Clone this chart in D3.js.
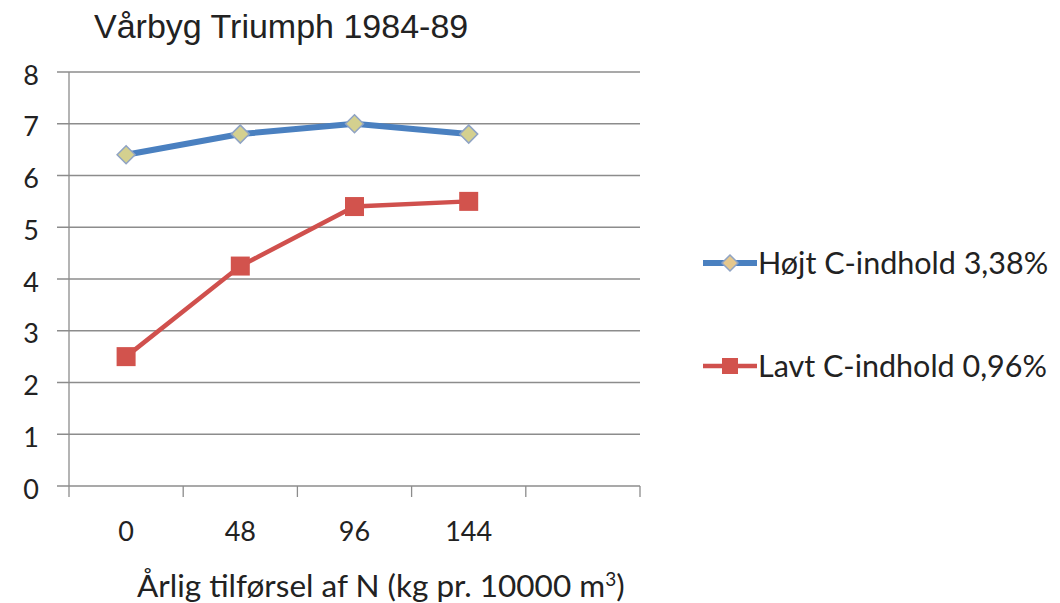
<!DOCTYPE html>
<html>
<head>
<meta charset="utf-8">
<script src="https://cdn.jsdelivr.net/npm/d3@7"></script>
<style>
  body { margin: 0; background: #fff; }
  svg { display: block; }
</style>
</head>
<body>
<svg id="chart" width="1060" height="603"></svg>
<script>
const categories = ["0", "48", "96", "144"];
const highC = [6.4, 6.8, 7.0, 6.8];
const lowC = [2.5, 4.25, 5.4, 5.5];
const yTicks = [0, 1, 2, 3, 4, 5, 6, 7, 8];
const seriesNames = ["Højt C-indhold 3,38%", "Lavt C-indhold 0,96%"];

const svg = d3.select("#chart");
const plotLeft = 69, plotRight = 640, plotTop = 72, plotBottom = 486;

// the sheet had an empty fifth category, so leave a blank slot at the end
const x = d3.scaleBand()
    .domain(categories.concat(["_blank"]))
    .range([plotLeft, plotRight]);
const y = d3.scaleLinear().domain([0, 8]).range([plotBottom, plotTop]);

const calibri = "Lato, 'Open Sans', sans-serif";
const blue = "#4a80c0", red = "#d0504d";

// gridlines
svg.append("g")
  .selectAll("line")
  .data(yTicks)
  .join("line")
    .attr("x1", plotLeft - 12)
    .attr("x2", plotRight)
    .attr("y1", d => y(d))
    .attr("y2", d => y(d))
    .attr("stroke", "#8c8c8c")
    .attr("stroke-width", 1.3);

// y axis line
svg.append("line")
    .attr("x1", plotLeft).attr("x2", plotLeft)
    .attr("y1", plotTop).attr("y2", plotBottom)
    .attr("stroke", "#8c8c8c")
    .attr("stroke-width", 1.3);

// x tick marks at band edges
const edges = x.domain().map(d => x(d)).concat([plotRight]);
svg.append("g")
  .selectAll("line")
  .data(edges)
  .join("line")
    .attr("x1", d => d).attr("x2", d => d)
    .attr("y1", plotBottom).attr("y2", plotBottom + 11)
    .attr("stroke", "#8c8c8c")
    .attr("stroke-width", 1.3);

// y labels
svg.append("g")
  .selectAll("text")
  .data(yTicks)
  .join("text")
    .attr("x", 31)
    .attr("y", d => y(d) + 3)
    .attr("dy", "0.36em")
    .attr("text-anchor", "middle")
    .attr("font-family", calibri)
    .attr("font-size", 27)
    .attr("fill", "#222")
    .text(d => d);

// x labels
svg.append("g")
  .selectAll("text")
  .data(categories)
  .join("text")
    .attr("x", d => x(d) + x.bandwidth() / 2)
    .attr("y", 531)
    .attr("dy", "0.36em")
    .attr("text-anchor", "middle")
    .attr("font-family", calibri)
    .attr("font-size", 27)
    .attr("fill", "#222")
    .text(d => d);

// axis title
const xt = svg.append("text")
    .attr("x", 137)
    .attr("y", 597)
    .attr("font-family", calibri)
    .attr("font-size", 31.5)
    .attr("fill", "#222")
    .text("Årlig tilførsel af N (kg pr. 10000 m");
xt.append("tspan").attr("dy", -11).attr("font-size", 19).text("3");
xt.append("tspan").attr("dy", 11).text(")");

// chart title
svg.append("text")
    .attr("x", 94)
    .attr("y", 38)
    .attr("font-family", "'Liberation Sans', Arial, sans-serif")
    .attr("font-size", 34)
    .attr("fill", "#222")
    .text("Vårbyg Triumph 1984-89");

const line = d3.line()
    .x((d, i) => x(categories[i]) + x.bandwidth() / 2)
    .y(d => y(d));

// low C series (red, squares)
svg.append("path")
    .datum(lowC)
    .attr("d", line)
    .attr("fill", "none")
    .attr("stroke", red)
    .attr("stroke-width", 4.5);

svg.append("g")
  .selectAll("rect")
  .data(lowC)
  .join("rect")
    .attr("x", (d, i) => x(categories[i]) + x.bandwidth() / 2 - 9.5)
    .attr("y", d => y(d) - 9.5)
    .attr("width", 19)
    .attr("height", 19)
    .attr("fill", "#d2534d");

// high C series (blue, diamonds)
svg.append("path")
    .datum(highC)
    .attr("d", line)
    .attr("fill", "none")
    .attr("stroke", blue)
    .attr("stroke-width", 6);

const diamond = "M0,-9L9,0L0,9L-9,0Z";
svg.append("g")
  .selectAll("path")
  .data(highC)
  .join("path")
    .attr("transform", (d, i) => `translate(${x(categories[i]) + x.bandwidth() / 2},${y(d)})`)
    .attr("d", diamond)
    .attr("fill", "#d4d08f")
    .attr("stroke", "#8fa3c4")
    .attr("stroke-width", 1.5);

// legend
const legend = svg.append("g");
const legendY = [263, 366];
seriesNames.forEach((name, i) => {
  const ly = legendY[i];
  legend.append("line")
      .attr("x1", 703).attr("x2", 757)
      .attr("y1", ly).attr("y2", ly)
      .attr("stroke", i === 0 ? blue : red)
      .attr("stroke-width", i === 0 ? 6 : 4.5);
  if (i === 0) {
    legend.append("path")
        .attr("transform", `translate(730,${ly})`)
        .attr("d", "M0,-8L8,0L0,8L-8,0Z")
        .attr("fill", "#e6c88c")
        .attr("stroke", "#8fa3c4")
        .attr("stroke-width", 1.5);
  } else {
    legend.append("rect")
        .attr("x", 722).attr("y", ly - 8)
        .attr("width", 16).attr("height", 16)
        .attr("fill", "#d2534d");
  }
  legend.append("text")
      .attr("x", 758)
      .attr("y", ly)
      .attr("dy", "0.36em")
      .attr("font-family", calibri)
      .attr("font-size", 30.5)
      .attr("fill", "#222")
      .text(name);
});
</script>
</body>
</html>
